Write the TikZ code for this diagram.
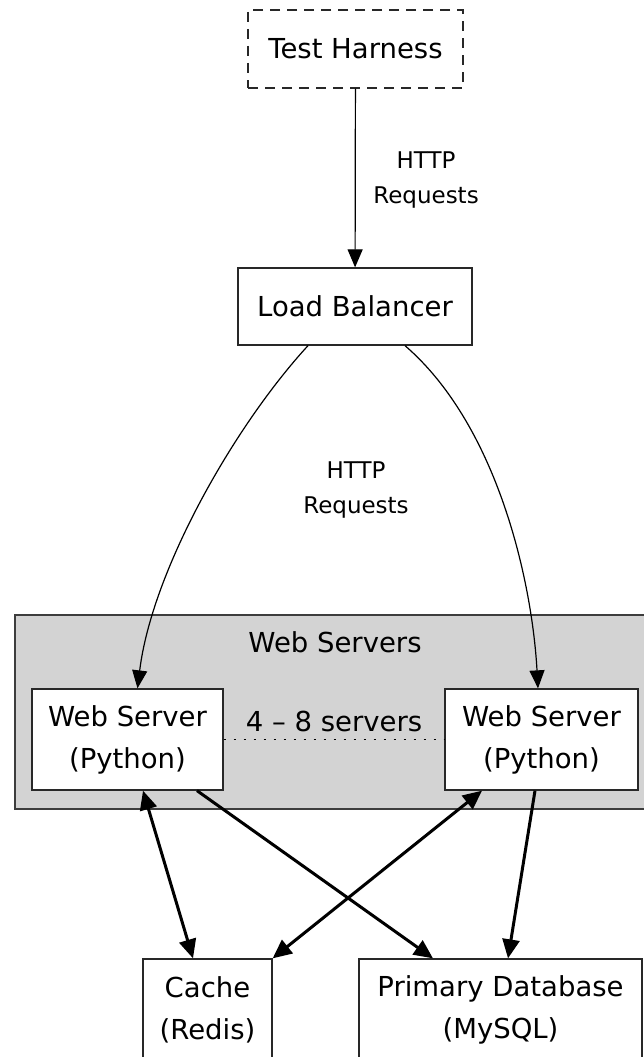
\documentclass[tikz,border=0pt]{standalone}
\usepackage{fontspec}
\setmainfont{DejaVu Sans}
\usepackage{tikz}
\usetikzlibrary{arrows.meta,positioning,calc}

\definecolor{clustergray}{RGB}{211,211,211}
\definecolor{edgegray}{RGB}{40,40,40}
\tikzset{
  box/.style={draw=edgegray,line width=1.3pt,fill=white,align=center,inner sep=0pt,
    font=\fontsize{27.5}{42}\selectfont},
  lbl/.style={align=center,font=\fontsize{23}{35}\selectfont},
  req/.style={-{Triangle[length=18pt,width=15pt]},line width=1.2pt},
  link/.style={line width=3pt,-{Triangle[length=19pt,width=17pt]}},
  biglink/.style={line width=3pt,{Triangle[length=19pt,width=17pt]}-{Triangle[length=19pt,width=17pt]}}
}

\begin{document}
\begin{tikzpicture}[x=1pt,y=-1pt]
\useasboundingbox (0,0) rectangle (644,1057);
%% cluster
\node[draw=edgegray!90,line width=1.6pt,fill=clustergray,minimum width=660pt,minimum height=194pt,anchor=north west,inner sep=0pt](cluster) at (14,614){};
\node[font=\fontsize{27.5}{42}\selectfont,anchor=base](clustertitle) at (335,652){Web Servers};
%% nodes
\node[box,dash pattern=on 10pt off 7pt,minimum width=215pt,minimum height=78pt](harness) at (355.5,49){Test Harness};
\node[box,minimum width=234pt,minimum height=77pt](lb) at (355,306.5){Load Balancer};
\node[box,minimum width=191pt,minimum height=101pt](ws1) at (127.5,739.5){Web Server\\(Python)};
\node[box,minimum width=193pt,minimum height=101pt](ws2) at (541.5,739.5){Web Server\\(Python)};
\node[box,minimum width=129pt,minimum height=102pt](cache) at (207.5,1010){Cache\\(Redis)};
\node[box,minimum width=283pt,minimum height=102pt](db) at (500.5,1010){Primary Database\\(MySQL)};
%% requests
\draw[req](harness)--(lb);
\node[lbl](req1) at (426,180){HTTP\\Requests};
\draw[req]([xshift=-47pt]lb.south) .. controls (235,425) and (152,570) .. ([xshift=10pt]ws1.north);
\draw[req]([xshift=50pt]lb.south) .. controls (497,425) and (532,580) .. ([xshift=-3.5pt]ws2.north);
\node[lbl](req2) at (356,490){HTTP\\Requests};
\draw[line width=1.3pt,dash pattern=on 2pt off 8pt](ws1.east)--(ws2.west)
  node[midway,above=4pt,font=\fontsize{27.5}{42}\selectfont]{4 -- 8 servers};
%% storage
\draw[biglink]([xshift=15.5pt]ws1.south)--([xshift=-14.5pt]cache.north);
\draw[link]([xshift=69.5pt]ws1.south)--([xshift=-67.5pt]db.north);
\draw[biglink]([xshift=-59.5pt]ws2.south)--(cache.north east);
\draw[link]([xshift=-6.5pt]ws2.south)--([xshift=7.5pt]db.north);
\end{tikzpicture}
\end{document}
